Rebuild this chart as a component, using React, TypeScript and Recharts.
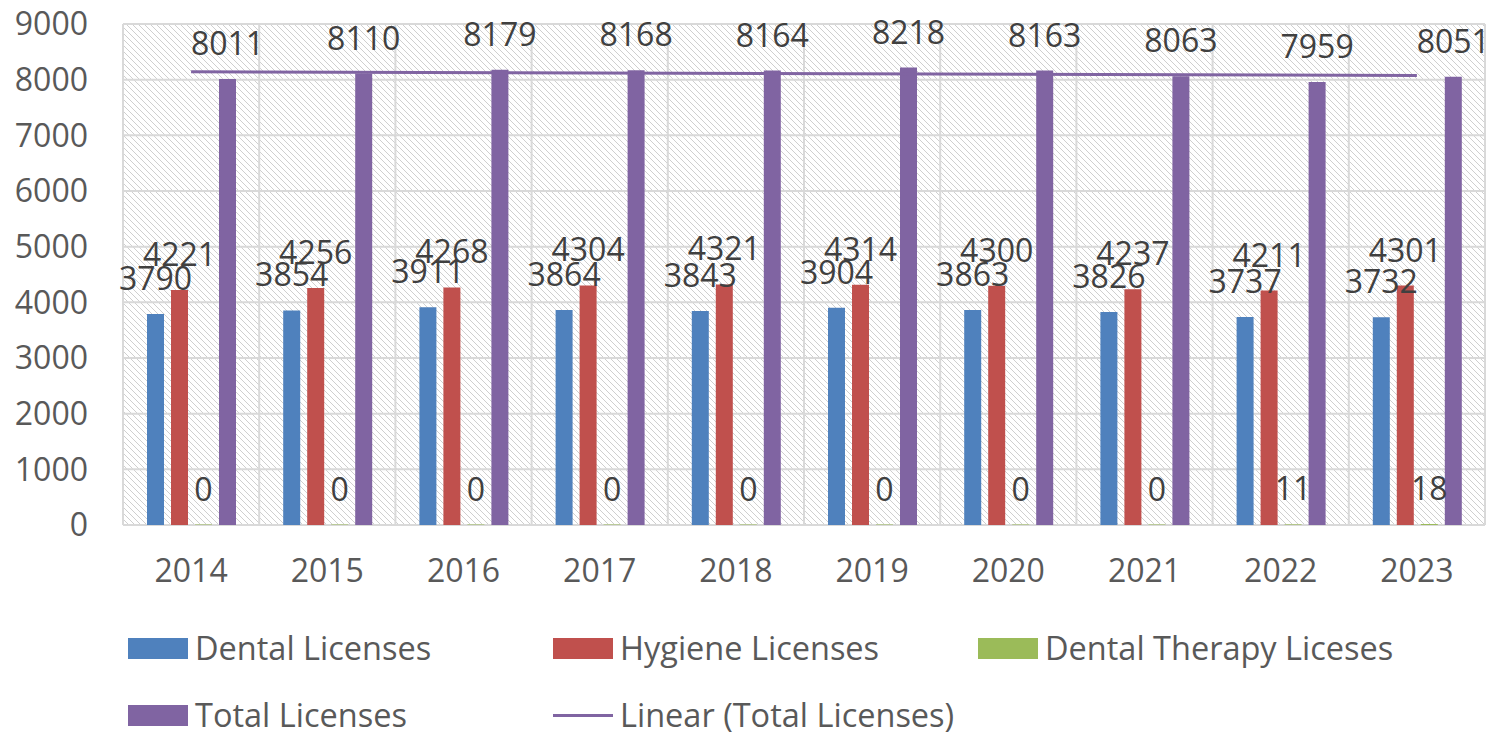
import React from 'react';
import {
  ComposedChart,
  Bar,
  XAxis,
  YAxis,
  CartesianGrid,
  LabelList,
  ReferenceLine,
  Legend,
} from 'recharts';

const years = ['2014', '2015', '2016', '2017', '2018', '2019', '2020', '2021', '2022', '2023'];
const dentalLicenses = [3790, 3854, 3911, 3864, 3843, 3904, 3863, 3826, 3737, 3732];
const hygieneLicenses = [4221, 4256, 4268, 4304, 4321, 4314, 4300, 4237, 4211, 4301];
const therapyLicenses = [0, 0, 0, 0, 0, 0, 0, 0, 11, 18];
const totalLicenses = [8011, 8110, 8179, 8168, 8164, 8218, 8163, 8063, 7959, 8051];
const yTicks = [0, 1000, 2000, 3000, 4000, 5000, 6000, 7000, 8000, 9000];
const trendStart = 8142;
const trendEnd = 8075;

const BLUE = '#4F81BD';
const RED = '#C0504D';
const GREEN = '#9BBB59';
const PURPLE = '#8064A2';
const FONT = '"Open Sans", sans-serif';

const data = years.map((year, i) => ({
  year,
  dental: dentalLicenses[i],
  hygiene: hygieneLicenses[i],
  therapy: therapyLicenses[i],
  total: totalLicenses[i],
}));

const legendItems = [
  { name: 'Dental Licenses', color: BLUE, type: 'rect', col: 0, row: 0 },
  { name: 'Hygiene Licenses', color: RED, type: 'rect', col: 1, row: 0 },
  { name: 'Dental Therapy Liceses', color: GREEN, type: 'rect', col: 2, row: 0 },
  { name: 'Total Licenses', color: PURPLE, type: 'rect', col: 0, row: 1 },
  { name: 'Linear (Total Licenses)', color: PURPLE, type: 'line', col: 1, row: 1 },
];

const CustomLegend = () => (
  <div style={{ position: 'relative', width: 1495, height: 110, fontFamily: FONT }}>
    {legendItems.map((it) => (
      <div
        key={it.name}
        style={{
          position: 'absolute',
          left: 128 + it.col * 425,
          top: 28 + it.row * 67 - 17,
          height: 34,
          display: 'flex',
          alignItems: 'center',
          whiteSpace: 'nowrap',
        }}
      >
        {it.type === 'rect' ? (
          <div style={{ width: 60, height: 21, background: it.color }} />
        ) : (
          <div style={{ width: 60, height: 3, background: it.color }} />
        )}
        <span style={{ marginLeft: 7, fontSize: 32.5, lineHeight: '34px', color: '#595959' }}>{it.name}</span>
      </div>
    ))}
  </div>
);

const labelStyle = { fontSize: 32, fill: '#404040', fontFamily: FONT };
const tickStyle = { fontSize: 32, fill: '#595959', fontFamily: FONT };

export default function App() {
  return (
    <div style={{ position: 'absolute', left: 0, top: 0, width: 1495, height: 733, overflow: 'hidden' }}>
      <ComposedChart
        width={1495}
        height={733}
        data={data}
        margin={{ top: 24, right: 10, bottom: 0, left: 0 }}
        barGap={7}
        barSize={17}
      >
        <defs>
          <pattern id="hatch" patternUnits="userSpaceOnUse" width="6" height="6">
            <rect width="6" height="6" fill="#ffffff" />
            <path d="M-1,-1 L7,7 M-1,5 L1,7 M5,-1 L7,1" stroke="#cfcfcf" strokeWidth="1" />
          </pattern>
        </defs>
        <CartesianGrid
          fill="url(#hatch)"
          fillOpacity={1}
          stroke="#d9d9d9"
          strokeWidth={2}
          horizontal
          vertical
          verticalCoordinatesGenerator={({ offset }: any) =>
            years.concat(['end']).map((_, i) => offset.left + (i * offset.width) / years.length)
          }
        />
        <XAxis
          dataKey="year"
          axisLine={false}
          tickLine={false}
          tickSize={0}
          tickMargin={34}
          height={98}
          tick={tickStyle}
        />
        <YAxis
          domain={[0, 9000]}
          ticks={yTicks}
          axisLine={false}
          tickLine={false}
          tickSize={0}
          tickMargin={35}
          width={123}
          tick={tickStyle}
          interval={0}
        />
        <Bar dataKey="dental" name="Dental Licenses" fill={BLUE} isAnimationActive={false}>
          <LabelList dataKey="dental" position="top" offset={24} style={labelStyle} />
        </Bar>
        <Bar dataKey="hygiene" name="Hygiene Licenses" fill={RED} isAnimationActive={false}>
          <LabelList dataKey="hygiene" position="top" offset={24} style={labelStyle} />
        </Bar>
        <Bar
          dataKey="therapy"
          name="Dental Therapy Liceses"
          fill={GREEN}
          minPointSize={0.5}
          isAnimationActive={false}
        >
          <LabelList dataKey="therapy" position="top" offset={24} style={labelStyle} />
        </Bar>
        <Bar dataKey="total" name="Total Licenses" fill={PURPLE} isAnimationActive={false}>
          <LabelList dataKey="total" position="top" offset={24} style={labelStyle} />
        </Bar>
        <ReferenceLine
          segment={[
            { x: years[0], y: trendStart },
            { x: years[years.length - 1], y: trendEnd },
          ]}
          stroke={PURPLE}
          strokeWidth={3}
          ifOverflow="visible"
        />
        <Legend
          content={<CustomLegend />}
          wrapperStyle={{ position: 'absolute', left: 0, top: 620, width: 1495 }}
        />
      </ComposedChart>
    </div>
  );
}
